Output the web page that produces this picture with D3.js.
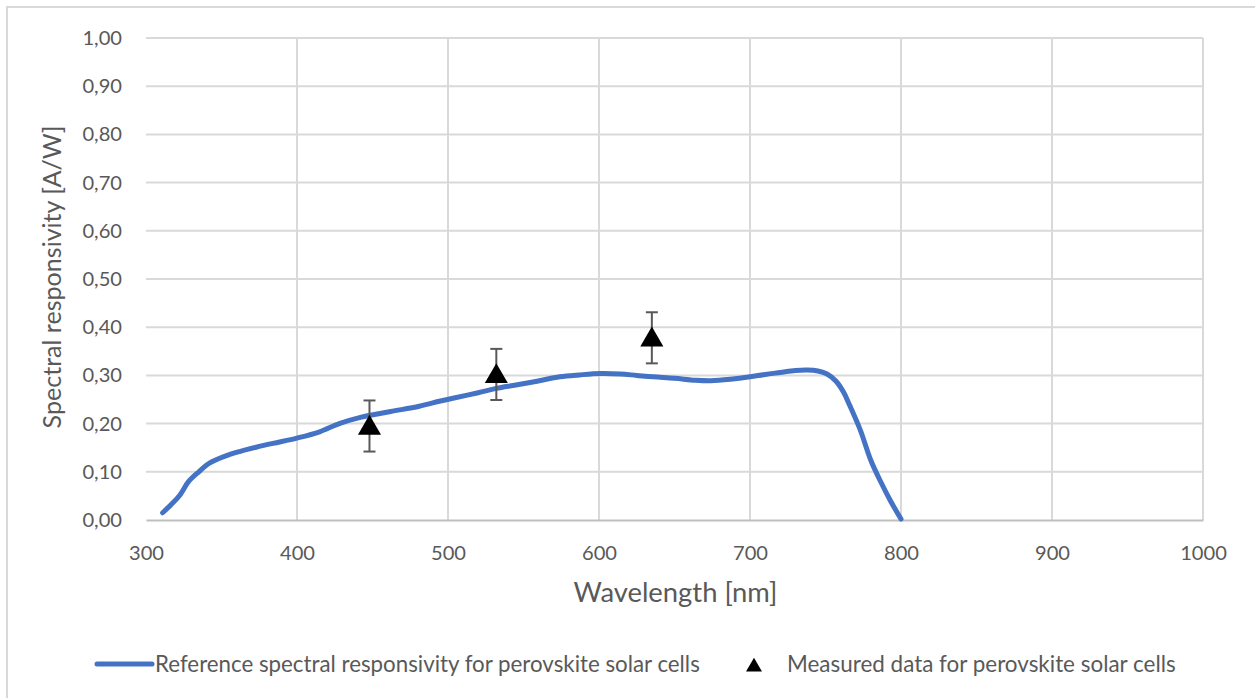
<!DOCTYPE html>
<html>
<head>
<meta charset="utf-8">
<script src="https://cdn.jsdelivr.net/npm/d3@7"></script>
<style>
  body { margin: 0; background: #fff; }
  text { font-family: Lato, "Open Sans", sans-serif; fill: #595959; }
</style>
</head>
<body>
<svg id="chart" width="1255" height="698"></svg>
<script>
// reference curve
var curveWl = [311, 317, 322.5, 328, 335, 342, 352, 362, 373, 384, 400, 415, 428, 442, 462, 481, 495, 504, 520, 532,
               545, 559, 574, 587, 601, 614, 625, 636, 650, 664, 674, 687, 700, 710, 720, 730, 738, 745, 751, 757,
               762, 766, 773, 780, 786, 793, 800];
var curveResp = [0.015, 0.033, 0.052, 0.079, 0.100, 0.118, 0.132, 0.142, 0.151, 0.159, 0.170, 0.183, 0.200, 0.213, 0.225, 0.236, 0.247, 0.253, 0.264, 0.273,
                 0.280, 0.288, 0.297, 0.301, 0.304, 0.303, 0.300, 0.297, 0.294, 0.290, 0.289, 0.292, 0.297, 0.302, 0.306, 0.310, 0.311, 0.309, 0.303, 0.288,
                 0.265, 0.238, 0.187, 0.124, 0.083, 0.040, 0.002];

// measured points with error
var measWl = [448, 532, 635];
var measResp = [0.195, 0.302, 0.378];
var measErr = [0.053, 0.053, 0.053];

var xTicks = [300, 400, 500, 600, 700, 800, 900, 1000];
var yTicks = [0, 0.1, 0.2, 0.3, 0.4, 0.5, 0.6, 0.7, 0.8, 0.9, 1.0];

var legendLabels = ["Reference spectral responsivity for perovskite solar cells", "Measured data for perovskite solar cells"];
var xTitle = "Wavelength [nm]";
var yTitle = "Spectral responsivity [A/W]";

var svg = d3.select("#chart");
var mLeft = 146, mRight = 1203, mTop = 38, mBottom = 520;

var x = d3.scaleLinear().domain([300, 1000]).range([mLeft, mRight]);
var y = d3.scaleLinear().domain([0, 1]).range([mBottom, mTop]);

function fit(sel, w){
    var len = sel.node().getComputedTextLength();
    var cur = parseFloat(sel.style("font-size"));
    var size = cur * w / len;
    sel.style("font-size", size + "px");
    return size;
}

// outer frame
svg.append("rect")
    .attr("x", 7).attr("y", 7).attr("width", 1260).attr("height", 710)
    .attr("fill", "none").attr("stroke", "#d9d9d9").attr("stroke-width", 2);

// grid
var grid = svg.append("g");
grid.selectAll("line.h")
    .data(yTicks.slice(1))
    .enter().append("line")
    .attr("x1", mLeft).attr("x2", mRight)
    .attr("y1", function(d){ return y(d);})
    .attr("y2", function(d){ return y(d);})
    .attr("stroke", "#d9d9d9").attr("stroke-width", 2);
grid.selectAll("line.v")
    .data(xTicks.slice(1))
    .enter().append("line")
    .attr("x1", function(d){ return x(d);})
    .attr("x2", function(d){ return x(d);})
    .attr("y1", mTop).attr("y2", mBottom)
    .attr("stroke", "#d9d9d9").attr("stroke-width", 2);

// axes
var fmt = function(d){ return d3.format(".2f")(d).replace(".", ","); };
var xAxis = svg.append("g")
    .attr("transform", "translate(0," + mBottom + ")")
    .call(d3.axisBottom(x).tickValues(xTicks).tickFormat(d3.format("d")).tickSize(0).tickPadding(26));
xAxis.select(".domain").attr("stroke", "#bfbfbf").attr("stroke-width", 2);
xAxis.selectAll("text").attr("font-family", null).attr("font-size", null).style("font-size", "22px").attr("fill", "#595959");
var tickSize = fit(xAxis.select("text"), 35);
xAxis.selectAll("text").style("font-size", tickSize + "px");

var yAxis = svg.append("g")
    .attr("transform", "translate(" + mLeft + ",0)")
    .call(d3.axisLeft(y).tickValues(yTicks).tickFormat(fmt).tickSize(0).tickPadding(24));
yAxis.select(".domain").remove();
yAxis.selectAll("text").attr("font-family", null).attr("font-size", null).style("font-size", tickSize + "px").attr("fill", "#595959");

// titles
var xt = svg.append("text")
    .attr("x", (mLeft + mRight) / 2 + 1).attr("y", 602)
    .attr("text-anchor", "middle").style("font-size", "28px")
    .text(xTitle);
fit(xt, 204);

var yt = svg.append("text")
    .attr("transform", "translate(61,277) rotate(-90)")
    .attr("text-anchor", "middle").style("font-size", "26px")
    .text(yTitle);
fit(yt, 303);

// reference curve
var curveData = curveWl.map(function(d, i){ return [d, curveResp[i]]; });
var line = d3.line()
    .x(function(d){ return x(d[0]);})
    .y(function(d){ return y(d[1]);})
    .curve(d3.curveCatmullRom);
svg.append("path")
    .datum(curveData)
    .attr("d", line)
    .attr("fill", "none")
    .attr("stroke", "#4472c4")
    .attr("stroke-width", 5)
    .attr("stroke-linecap", "round");

// error bars + markers
var meas = measWl.map(function(d, i){ return {wl: d, v: measResp[i], e: measErr[i]}; });
var eb = svg.append("g").attr("stroke", "#595959").attr("stroke-width", 2);
eb.selectAll("line.bar").data(meas).enter().append("line")
    .attr("x1", function(d){ return x(d.wl);}).attr("x2", function(d){ return x(d.wl);})
    .attr("y1", function(d){ return y(d.v + d.e);}).attr("y2", function(d){ return y(d.v - d.e);});
[1, -1].forEach(function(s){
    eb.selectAll("line.cap" + s).data(meas).enter().append("line")
        .attr("x1", function(d){ return x(d.wl) - 6;}).attr("x2", function(d){ return x(d.wl) + 6;})
        .attr("y1", function(d){ return y(d.v + s * d.e);}).attr("y2", function(d){ return y(d.v + s * d.e);});
});

var tri = d3.symbol().type(d3.symbolTriangle).size(230);
svg.append("g").selectAll("path")
    .data(meas).enter().append("path")
    .attr("d", tri)
    .attr("transform", function(d){ return "translate(" + x(d.wl) + "," + (y(d.v) + 2) + ")";})
    .attr("fill", "#000");

// legend
svg.append("line")
    .attr("x1", 97).attr("x2", 152).attr("y1", 664).attr("y2", 664)
    .attr("stroke", "#4472c4").attr("stroke-width", 5).attr("stroke-linecap", "round");
var l1 = svg.append("text").attr("x", 155).attr("y", 672).style("font-size", "22px").text(legendLabels[0]);
fit(l1, 545);
svg.append("path")
    .attr("d", d3.symbol().type(d3.symbolTriangle).size(110))
    .attr("transform", "translate(754,667)")
    .attr("fill", "#000");
var l2 = svg.append("text").attr("x", 787).attr("y", 672).style("font-size", "22px").text(legendLabels[1]);
fit(l2, 389);
</script>
</body>
</html>
